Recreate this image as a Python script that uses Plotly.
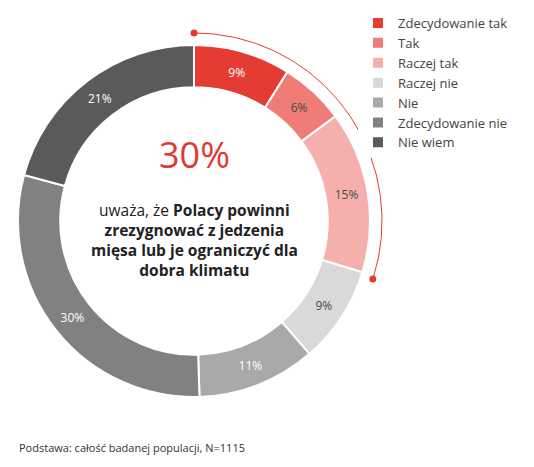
import numpy as np
import plotly.graph_objects as go

# Odpowiedzi i udziały (%)
categories = ["Zdecydowanie tak", "Tak", "Raczej tak", "Raczej nie",
              "Nie", "Zdecydowanie nie", "Nie wiem"]
values = [9, 6, 15, 9, 11, 30, 21]
colors = ["#e43c33", "#ef7c76", "#f5b0ad", "#d9d9d9",
          "#a9a9a9", "#818181", "#5a5a5a"]
text_colors = ["white", "#4a4a4a", "#4a4a4a", "#4a4a4a",
               "white", "white", "white"]

headline = "30%"
subtitle = ("uważa, że <b>Polacy powinni<br>zrezygnować z jedzenia<br>"
            "mięsa lub je ograniczyć dla<br>dobra klimatu</b>")
footnote = "Podstawa: całość badanej populacji, N=1115"

W, H = 534, 467
# strona ma 8px marginesu body, więc wszystko liczone w pikselach figury
cx, cy, R = 186, 213, 176
ARC_R = 188
FONT = "Open Sans"
RED = "#e43c33"

fig = go.Figure()

fig.add_trace(go.Pie(
    labels=categories,
    values=values,
    hole=0.76,
    sort=False,
    direction="clockwise",
    rotation=0,
    marker=dict(colors=colors, line=dict(color="white", width=2)),
    texttemplate="%{value}%",
    textposition="inside",
    insidetextorientation="horizontal",
    textfont=dict(family=FONT, size=12, color=text_colors),
    domain=dict(x=[(cx - R) / W, (cx + R) / W],
                y=[(H - cy - R) / H, (H - cy + R) / H]),
    hoverinfo="label+percent",
))

# łuk nad odpowiedziami "tak" (oś w pikselach, y do góry)
yes_share = sum(values[:3])
t = np.radians(np.linspace(0, 360 * yes_share / 100, 120))
arc_x = cx + ARC_R * np.sin(t)
arc_y = (H - cy) + ARC_R * np.cos(t)
fig.add_trace(go.Scatter(
    x=arc_x, y=arc_y, mode="lines",
    line=dict(color=RED, width=1), showlegend=False, hoverinfo="skip",
))
fig.add_trace(go.Scatter(
    x=[arc_x[0], arc_x[-1]], y=[arc_y[0], arc_y[-1]], mode="markers",
    marker=dict(color=RED, size=7), showlegend=False, hoverinfo="skip",
))

fig.update_layout(
    width=W, height=H,
    margin=dict(l=0, r=0, t=0, b=0, autoexpand=False),
    paper_bgcolor="white",
    plot_bgcolor="rgba(0,0,0,0)",
    font=dict(family=FONT, color="#333333"),
    xaxis=dict(range=[0, W], visible=False, fixedrange=True),
    yaxis=dict(range=[0, H], visible=False, fixedrange=True),
    legend=dict(x=350 / W, y=1, xanchor="left", yanchor="top",
                font=dict(family=FONT, size=13, color="#444444"),
                tracegroupgap=0, itemwidth=30),
    annotations=[
        dict(text=headline, x=cx / W, y=1 - 147 / H, xref="paper", yref="paper",
             xanchor="center", yanchor="middle", showarrow=False,
             font=dict(size=36, color="#e03a31")),
        dict(text=subtitle, x=cx / W, y=1 - 232 / H, xref="paper", yref="paper",
             xanchor="center", yanchor="middle", showarrow=False, align="center",
             font=dict(size=15.5, color="#222222")),
        dict(text=footnote, x=9 / W, y=1 - 439 / H, xref="paper", yref="paper",
             xanchor="left", yanchor="middle", showarrow=False,
             font=dict(size=11, color="#333333")),
    ],
)

fig.write_html("out.html")
